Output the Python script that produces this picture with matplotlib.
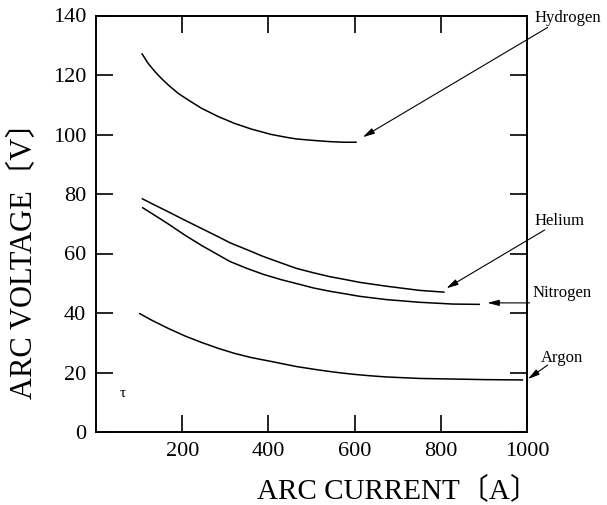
import matplotlib
matplotlib.use("Agg")
import matplotlib.pyplot as plt

# ---- data ----
h_current = [106, 121, 137, 152, 168, 191, 214, 245, 284, 322, 361, 407,
             440, 465, 505, 543, 575, 605]
h_voltage = [127.3, 123.9, 121.1, 118.8, 116.6, 113.8, 111.6, 108.8, 106.0,
             103.7, 101.8, 100.0, 99.1, 98.5, 98.0, 97.6, 97.4, 97.4]

he_current = [106, 129, 168, 206, 245, 284, 311, 350, 388, 430, 465, 505,
              543, 580, 612, 674, 751, 809]
he_voltage = [78.5, 76.8, 74.0, 71.2, 68.4, 65.6, 63.6, 61.3, 59.0, 56.8,
              55.0, 53.5, 52.2, 51.2, 50.3, 49.0, 47.6, 47.0]

n_current = [107, 129, 168, 206, 245, 284, 311, 350, 388, 430, 465, 505,
             543, 580, 612, 674, 751, 829, 891]
n_voltage = [75.5, 73.5, 69.9, 66.2, 62.7, 59.5, 57.3, 55.0, 53.0, 51.2,
             49.9, 48.4, 47.3, 46.4, 45.6, 44.5, 43.6, 43.0, 42.9]

ar_current = [100, 129, 168, 206, 245, 284, 322, 361, 407, 465, 519, 560,
              597, 636, 674, 751, 829, 906, 991]
ar_voltage = [39.9, 37.6, 34.8, 32.3, 30.1, 28.1, 26.4, 25.0, 23.7, 22.0,
              20.8, 20.0, 19.4, 18.9, 18.5, 18.0, 17.8, 17.6, 17.5]

gas_names = ["Hydrogen", "Helium", "Nitrogen", "Argon"]
x_ticks = [200, 400, 600, 800, 1000]
x_ticklabels = ["200", "400", "600", "800", "1000"]
y_ticks = [0, 20, 40, 60, 80, 100, 120, 140]
y_ticklabels = ["0", "20", "40", "60", "80", "100", "120", "140"]

SERIF = ["Liberation Serif", "DejaVu Serif", "Noto Sans CJK JP"]
plt.rcParams["font.family"] = SERIF

fig = plt.figure(figsize=(6.07, 5.05), dpi=100)
ax = fig.add_axes([96 / 607, 73 / 505, (527 - 96) / 607, (432 - 15.5) / 505])

lw = 1.1
for xs, ys in [(h_current, h_voltage), (he_current, he_voltage),
               (n_current, n_voltage), (ar_current, ar_voltage)]:
    ax.plot(xs, ys, color="black", lw=lw, solid_capstyle="butt",
            solid_joinstyle="round")

ax.set_xlim(0, 1000)
ax.set_ylim(0, 140)
ax.set_xticks(x_ticks)
ax.set_xticklabels(x_ticklabels)
ax.set_yticks(y_ticks)
ax.set_yticklabels(y_ticklabels)
ax.tick_params(direction="in", length=12, width=1.2, top=True, right=True,
               labelsize=16, pad=7, colors="black")
for s in ax.spines.values():
    s.set_linewidth(1.4)

fig.text(398 / 607, 1 - 490 / 505, "ARC CURRENT〔A〕", fontsize=21,
         ha="center", va="center")
fig.text(24 / 607, 1 - 253 / 505, "ARC VOLTAGE〔V〕", fontsize=22,
         ha="center", va="center", rotation=90)

# annotations: (label, label pos, arrow tail, arrow tip) in data coords
ann = [
    ("Hydrogen", (1018, 139), (1048, 136), (619, 99.1)),
    ("Helium", (1018, 71), (1041, 67.9), (813, 48.3)),
    ("Nitrogen", (1013, 46.7), (1006, 43.4), (908, 43.4)),
    ("Argon", (1031, 24.9), (1048, 22.5), (1002, 17.8)),
]
for name, tpos, tail, tip in ann:
    ax.text(tpos[0], tpos[1], name, fontsize=12, ha="left", va="center",
            clip_on=False)
    ax.annotate("", xy=tip, xytext=tail, annotation_clip=False,
                arrowprops=dict(arrowstyle="-|>,head_length=0.7,head_width=0.18",
                                color="black", lw=0.8, shrinkA=0, shrinkB=0))

ax.text(62, 13.1, "τ", fontsize=11, ha="center", va="center")

fig.savefig("out.png", dpi=100)
